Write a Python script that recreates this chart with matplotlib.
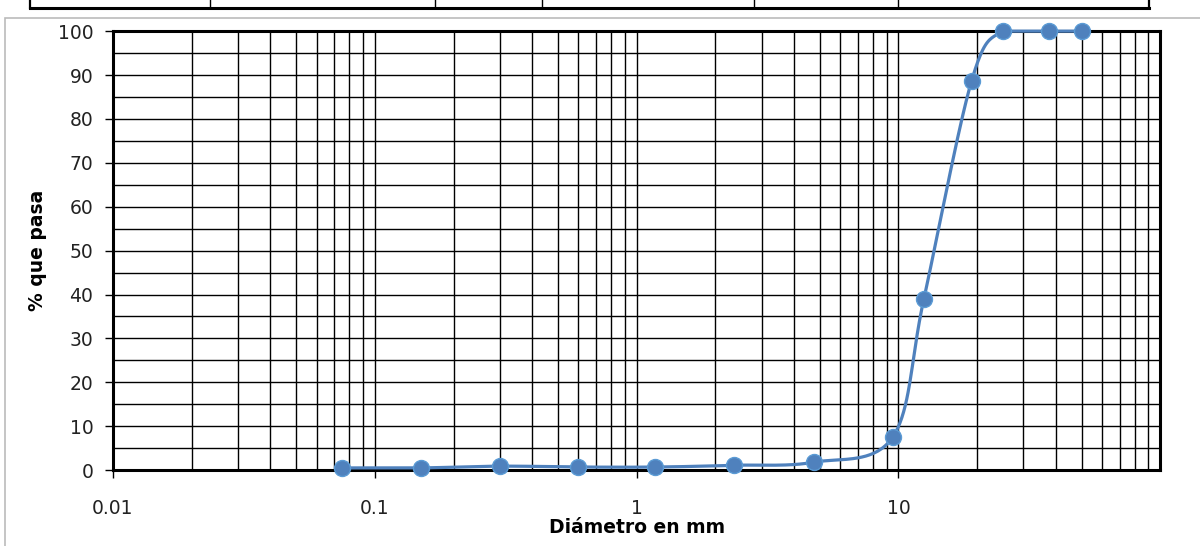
import numpy as np
import matplotlib.pyplot as plt
from matplotlib.patches import Rectangle
from matplotlib.lines import Line2D

# Data: sieve opening (mm) vs % passing
diametro = [0.075, 0.15, 0.3, 0.6, 1.18, 2.36, 4.75, 9.5, 12.5, 19.0, 25.0, 37.5, 50.0]
pasa = [0.5, 0.5, 0.9, 0.7, 0.7, 1.1, 1.8, 7.5, 39.0, 88.6, 100.0, 100.0, 100.0]
x_ticks = [0.01, 0.1, 1, 10]
x_tick_labels = ["0.01", "0.1", "1", "10"]

plt.rcParams['font.family'] = ['DejaVu Sans']

BLUE = '#4F81BD'


## Excel-like smoothed line (Catmull-Rom in screen-like units)
def smooth_curve(xs, ys, n=40):
    u = np.log10(xs) * 262.0
    v = np.asarray(ys) * 4.38
    pts = np.column_stack([u, v])
    pts = np.vstack([pts[0], pts, pts[-1]])
    out = []
    t = np.linspace(0, 1, n)
    for i in range(1, len(pts) - 2):
        p0, p1, p2, p3 = pts[i - 1], pts[i], pts[i + 1], pts[i + 2]
        c1 = p1 + (p2 - p0) / 6.0
        c2 = p2 - (p3 - p1) / 6.0
        seg = ((1 - t) ** 3)[:, None] * p1 + (3 * (1 - t) ** 2 * t)[:, None] * c1 \
            + (3 * (1 - t) * t ** 2)[:, None] * c2 + (t ** 3)[:, None] * p2
        out.append(seg)
    out = np.vstack(out)
    # keep the curve from overshooting the 100 % line
    return 10 ** (out[:, 0] / 262.0), np.minimum(out[:, 1] / 4.38, max(ys))


fig = plt.figure(figsize=(12, 5.46), dpi=100)
ax = fig.add_axes([0.094, 0.139, 0.873, 0.804])

sx, sy = smooth_curve(diametro, pasa)
ax.plot(sx, sy, color=BLUE, lw=2.3, zorder=3, clip_on=False)
ax.plot(diametro, pasa, 'o', color=BLUE, ms=11.5, mec='#5B9BD5', mew=1.0,
        zorder=4, clip_on=False)

ax.set_xscale('log')
ax.set_xlim(0.01, 100)
ax.set_ylim(0, 100)

ax.set_xticks(x_ticks)
ax.set_xticklabels(x_tick_labels)
ax.set_xticks([m * 10.0 ** e for e in range(-2, 2) for m in range(2, 10)], minor=True)
ax.set_yticks(range(0, 101, 10))
ax.set_yticks(range(5, 100, 10), minor=True)

ax.grid(True, which='both', color='black', lw=1.0)
ax.set_axisbelow(True)
ax.tick_params(axis='x', which='major', direction='out', length=6, width=1,
               labelsize=13.5, pad=15, labelcolor='#222222')
ax.tick_params(axis='y', which='major', direction='out', length=6, width=1,
               labelsize=13.5, pad=8, labelcolor='#222222')
ax.tick_params(which='minor', length=0)
for s in ax.spines.values():
    s.set_linewidth(2.2)
    s.set_color('black')

ax.set_xlabel('Diámetro en mm', fontsize=13.5, fontweight='bold', labelpad=0)
ax.set_ylabel('% que pasa', fontsize=13.5, fontweight='bold', labelpad=8)

# Outer gray frame of the chart area
fig.patches.append(Rectangle((5 / 1200, -0.05), 1.1, 1.05 - 18 / 546, transform=fig.transFigure,
                             fill=False, ec='#BBBBBB', lw=1.2))

# Cut-off table on top
top_y = 1 - 8 / 546
fig.lines.append(Line2D([30 / 1200, 1149 / 1200], [top_y, top_y], transform=fig.transFigure,
                        color='black', lw=2.2))
for xp in [30, 210, 435, 542, 754, 898, 1149]:
    fig.lines.append(Line2D([xp / 1200, xp / 1200], [top_y, 1.0], transform=fig.transFigure,
                            color='black', lw=1.6 if xp in (30, 1149) else 1.0))

fig.savefig('out.png', dpi=100)
